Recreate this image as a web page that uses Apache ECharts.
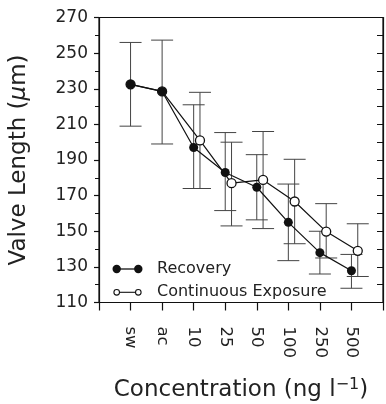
<!DOCTYPE html>
<html>
<head>
<meta charset="utf-8">
<script src="https://cdn.jsdelivr.net/npm/echarts@6/dist/echarts.min.js"></script>
<style>html,body{margin:0;padding:0;background:#fff}#c{width:386px;height:404px}</style>
</head>
<body>
<div id="c"></div>
<script>
// ---- data ----
const categories = ['sw', 'ac', '10', '25', '50', '100', '250', '500'];
const recoveryMean = [232.5, 228.5, 197, 183, 174.7, 155, 138, 127.8];
const recoveryLow  = [209, 199, 174, 161.6, 156.4, 133.5, 126, 118];
const recoveryHigh = [256, 257.3, 221, 205.4, 193, 176.5, 150, 137];
const continuousMean = [232.5, 228.5, 201, 177, 178.8, 166.7, 149.8, 139];
const continuousLow  = [null, null, 174, 153, 151.5, 143, 135, 124.6];
const continuousHigh = [null, null, 228, 200, 206, 190.4, 165.5, 154.2];
const yTicks = [110, 130, 150, 170, 190, 210, 230, 250, 270];

// shared control points (sw, ac) are drawn at the category; treatments are dodged
const dodge = 0.2;
const sharedControls = 2;

const recPts = categories.map((c, i) => [i + 1, recoveryMean[i]]);
const conPts = categories.map((c, i) => [i + 1 + (i >= sharedControls ? dodge : 0), continuousMean[i]]);
const recErr = categories.map((c, i) => [i + 1, recoveryLow[i], recoveryHigh[i]]);
const conErr = categories.map((c, i) => [i + 1 + dodge, continuousLow[i], continuousHigh[i]])
  .filter(d => d[1] != null);

const ink = '#111';
const font = 'DejaVu Sans';

function errRender(params, api) {
  const x = api.value(0), lo = api.value(1), hi = api.value(2);
  const a = api.coord([x, lo]), b = api.coord([x, hi]);
  const w = 11;
  const st = {stroke: '#444', lineWidth: 1};
  return {type: 'group', children: [
    {type: 'line', shape: {x1: a[0], y1: a[1], x2: b[0], y2: b[1]}, style: st},
    {type: 'line', shape: {x1: b[0] - w, y1: b[1], x2: b[0] + w, y2: b[1]}, style: st},
    {type: 'line', shape: {x1: a[0] - w, y1: a[1], x2: a[0] + w, y2: a[1]}, style: st}
  ]};
}

const chart = echarts.init(document.getElementById('c'), null, {renderer: 'canvas'});
const axisLine = {show: true, lineStyle: {color: ink, width: 1.2}};

chart.setOption({
  animation: false,
  backgroundColor: '#fff',
  grid: {left: 99, right: 3, top: 17.5, bottom: 101.5, containLabel: false, outerBoundsMode: 'none',
         show: true, borderColor: ink, borderWidth: 1.2, backgroundColor: 'transparent'},
  xAxis: [{
    type: 'value', min: 0, max: 9, interval: 1, position: 'bottom',
    axisLine: axisLine,
    axisTick: {show: true, inside: false, length: 8, lineStyle: {color: ink, width: 1.2}},
    splitLine: {show: false},
    axisLabel: {
      rotate: -90, margin: 24, color: '#222', fontFamily: font, fontSize: 16.5,
      formatter: v => (v >= 1 && v <= categories.length) ? categories[v - 1] : ''
    },
    name: 'Concentration (ng l{sup|−1})', nameLocation: 'middle', nameGap: 74,
    nameTextStyle: {fontFamily: font, fontSize: 23, color: '#222',
      rich: {sup: {fontFamily: font, fontSize: 16, color: '#222', padding: [0, 0, 12, 0]}}}
  }],
  yAxis: [{
    type: 'value', min: yTicks[0], max: yTicks[yTicks.length - 1], interval: 20, position: 'left',
    axisLine: axisLine,
    axisTick: {show: true, length: 5, lineStyle: {color: ink, width: 1.2}},
    minorTick: {show: true, splitNumber: 2, length: 4, lineStyle: {color: ink, width: 1}},
    splitLine: {show: false},
    axisLabel: {margin: 11, color: '#222', fontFamily: font, fontSize: 17},
    name: 'Valve Length ({mu|μ}m)', nameLocation: 'middle', nameGap: 68, nameRotate: 90,
    nameTextStyle: {fontFamily: font, fontSize: 23, color: '#222',
      rich: {mu: {fontFamily: font, fontSize: 23, fontStyle: 'italic', color: '#222'}}}
  }, {
    type: 'value', min: yTicks[0], max: yTicks[yTicks.length - 1], interval: 10, position: 'right',
    axisLine: axisLine,
    axisTick: {show: true, inside: true, length: 6, lineStyle: {color: ink, width: 1}},
    axisLabel: {show: false}, splitLine: {show: false}
  }],
  series: [
    {type: 'custom', name: 'recErr', renderItem: errRender, data: recErr, z: 1,
     encode: {x: 0, y: [1, 2]}, silent: true},
    {type: 'custom', name: 'conErr', renderItem: errRender, data: conErr, z: 1,
     encode: {x: 0, y: [1, 2]}, silent: true},
    {type: 'line', name: 'Continuous Exposure', data: conPts, z: 3,
     symbol: 'circle', symbolSize: 9,
     lineStyle: {color: ink, width: 1.2},
     itemStyle: {color: '#fff', borderColor: ink, borderWidth: 1.3}},
    {type: 'line', name: 'Recovery', data: recPts, z: 4,
     symbol: 'circle', symbolSize: 9,
     lineStyle: {color: ink, width: 1.2},
     itemStyle: {color: ink, borderColor: ink, borderWidth: 0}}
  ],
  graphic: [
    {type: 'line', shape: {x1: 116.7, y1: 269, x2: 138.3, y2: 269}, style: {stroke: ink, lineWidth: 1.3}},
    {type: 'circle', shape: {cx: 116.7, cy: 269, r: 4.2}, style: {fill: ink}},
    {type: 'circle', shape: {cx: 138.3, cy: 269, r: 4.2}, style: {fill: ink}},
    {type: 'text', x: 157, y: 269, style: {text: 'Recovery', fontFamily: font, fontSize: 16, fill: '#222', verticalAlign: 'middle'}},
    {type: 'line', shape: {x1: 119.5, y1: 292.3, x2: 135.5, y2: 292.3}, style: {stroke: ink, lineWidth: 1.1}},
    {type: 'circle', shape: {cx: 116.7, cy: 292.3, r: 2.8}, style: {fill: '#fff', stroke: ink, lineWidth: 1.1}},
    {type: 'circle', shape: {cx: 138.3, cy: 292.3, r: 2.8}, style: {fill: '#fff', stroke: ink, lineWidth: 1.1}},
    {type: 'text', x: 157, y: 292.3, style: {text: 'Continuous Exposure', fontFamily: font, fontSize: 16, fill: '#222', verticalAlign: 'middle'}}
  ]
});
</script>
</body>
</html>
